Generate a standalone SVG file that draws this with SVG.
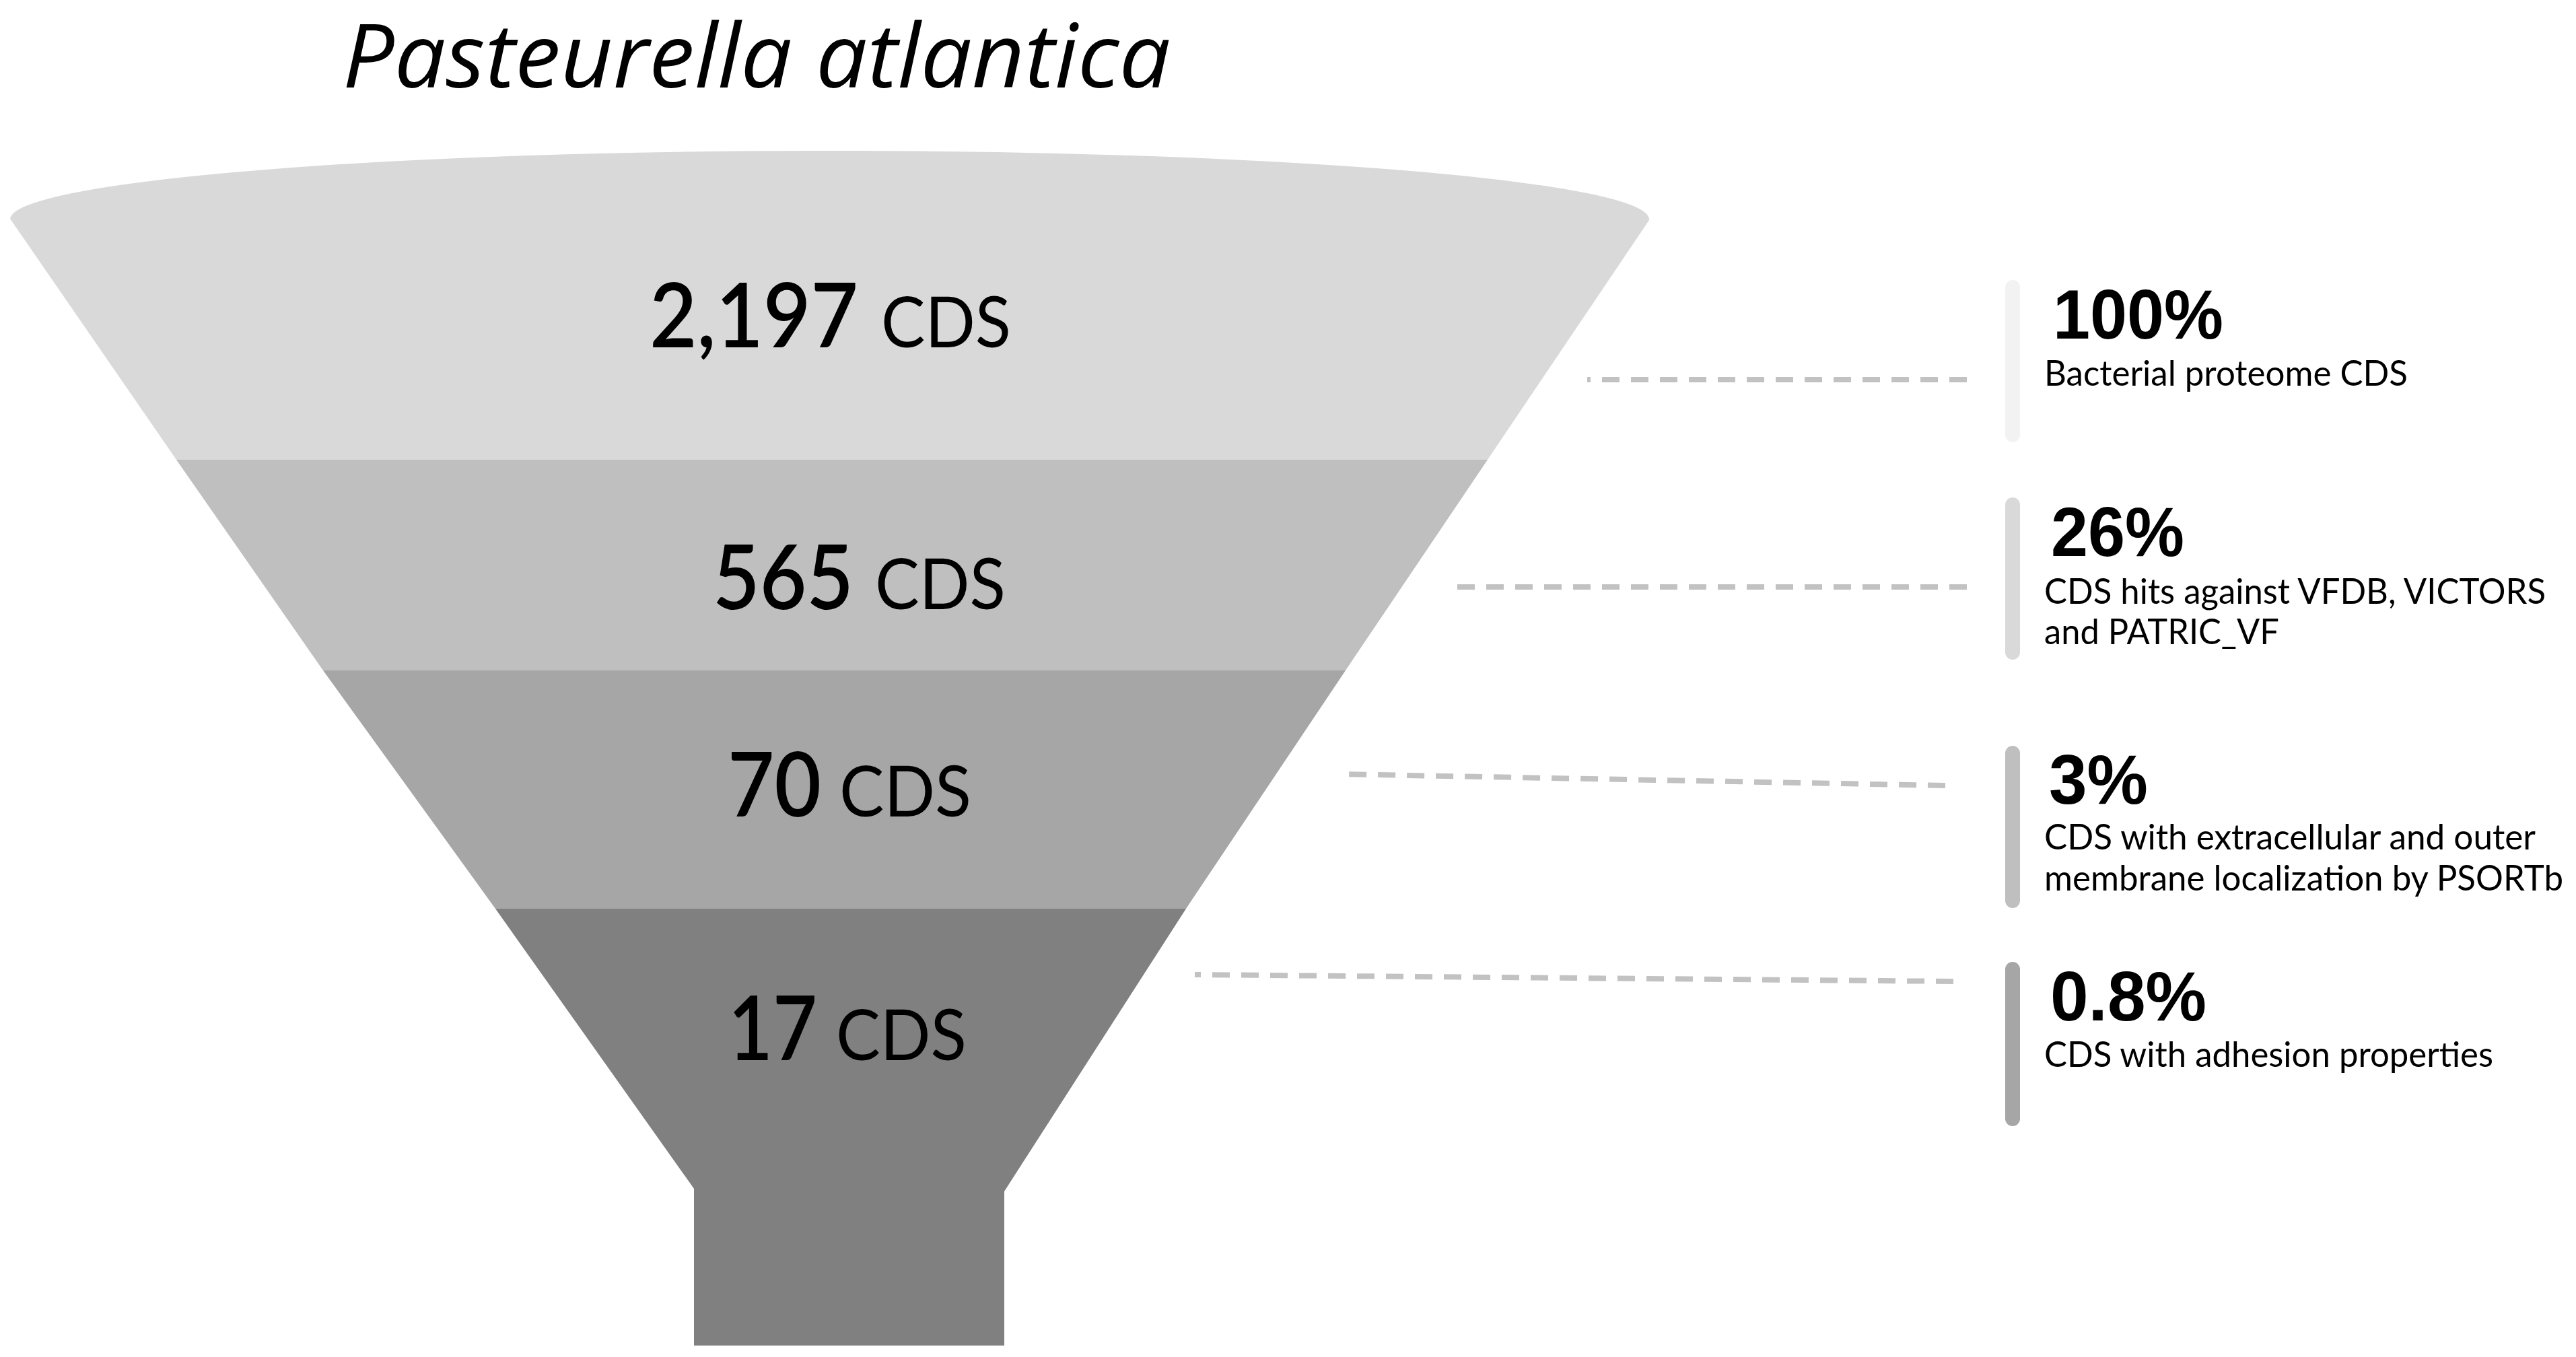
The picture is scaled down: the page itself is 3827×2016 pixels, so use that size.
<svg xmlns="http://www.w3.org/2000/svg" width="3827" height="2016" viewBox="0 0 3827 2016">
<style>
.num{font-family:Lato,"Noto Sans",sans-serif;font-weight:600;font-size:133px;fill:#000}
.cds{font-family:Lato,"Noto Sans",sans-serif;font-weight:400;font-size:105px;fill:#000}
.pct{font-family:"Liberation Sans",Arial,sans-serif;font-weight:700;font-size:104px;fill:#000}
.desc{font-family:Lato,"Noto Sans",sans-serif;font-weight:400;font-size:52px;fill:#000}
.title{font-family:"Open Sans","Noto Sans",sans-serif;font-style:italic;font-size:132px;fill:#000}
.dash{stroke:#c2c2c2;stroke-width:8;stroke-dasharray:26 17;fill:none}
.bar{stroke:none}
</style>
<rect width="3827" height="2016" fill="#ffffff"/>
<text class="title" x="509" y="130" textLength="1230" lengthAdjust="spacingAndGlyphs">Pasteurella atlantica</text>
<g id="band1">
<path d="M15,325 A1217,102 0 0 1 2450,327 L2210,683 L262,683 Z" fill="#d9d9d9"/>
<text class="num" x="965" y="516" textLength="310" lengthAdjust="spacingAndGlyphs">2,197</text>
<text class="cds" x="1309" y="516" textLength="193" lengthAdjust="spacingAndGlyphs">CDS</text>
</g>
<g id="band2">
<path d="M262,683 L2210,683 L1999,996 L480,996 Z" fill="#bfbfbf"/>
<text class="num" x="1059" y="905" textLength="209" lengthAdjust="spacingAndGlyphs">565</text>
<text class="cds" x="1300" y="905" textLength="194" lengthAdjust="spacingAndGlyphs">CDS</text>
</g>
<g id="band3">
<path d="M480,996 L1999,996 L1762,1350 L736,1350 Z" fill="#a6a6a6"/>
<text class="num" x="1081" y="1213" textLength="139" lengthAdjust="spacingAndGlyphs">70</text>
<text class="cds" x="1247" y="1213" textLength="196" lengthAdjust="spacingAndGlyphs">CDS</text>
</g>
<g id="band4">
<path d="M736,1350 L1762,1350 L1492,1770 L1492,1999 L1031,1999 L1031,1766 Z" fill="#808080"/>
<text class="num" x="1082" y="1575" textLength="132" lengthAdjust="spacingAndGlyphs">17</text>
<text class="cds" x="1242" y="1575" textLength="194" lengthAdjust="spacingAndGlyphs">CDS</text>
</g>
<g id="connectors">
<path class="dash" d="M2922,564 L2358,564"/>
<path class="dash" d="M2922,872 L2160,872"/>
<path class="dash" d="M2890,1167 L1990,1150"/>
<path class="dash" d="M2902,1458 L1775,1448"/>
</g>
<g id="label1">
<rect class="bar" x="2979" y="416" width="22" height="241" rx="11" fill="#f2f2f2"/>
<text class="pct" x="3050" y="503" textLength="253" lengthAdjust="spacingAndGlyphs">100%</text>
<text class="desc" x="3037" y="573" textLength="540" lengthAdjust="spacingAndGlyphs">Bacterial proteome CDS</text>
</g>
<g id="label2">
<rect class="bar" x="2979" y="739" width="22" height="241" rx="11" fill="#d9d9d9"/>
<text class="pct" x="3047" y="826" textLength="198" lengthAdjust="spacingAndGlyphs">26%</text>
<text class="desc" x="3037" y="897" textLength="745" lengthAdjust="spacingAndGlyphs">CDS hits against VFDB, VICTORS</text>
<text class="desc" x="3037" y="957" textLength="349" lengthAdjust="spacingAndGlyphs">and PATRIC_VF</text>
</g>
<g id="label3">
<rect class="bar" x="2979" y="1108" width="22" height="241" rx="11" fill="#bfbfbf"/>
<text class="pct" x="3044" y="1194" textLength="147" lengthAdjust="spacingAndGlyphs">3%</text>
<text class="desc" x="3037" y="1262" textLength="730" lengthAdjust="spacingAndGlyphs">CDS with extracellular and outer</text>
<text class="desc" x="3037" y="1323" textLength="771" lengthAdjust="spacingAndGlyphs">membrane localization by PSORTb</text>
</g>
<g id="label4">
<rect class="bar" x="2979" y="1429" width="22" height="244" rx="11" fill="#a6a6a6"/>
<text class="pct" x="3046" y="1516" textLength="232" lengthAdjust="spacingAndGlyphs">0.8%</text>
<text class="desc" x="3037" y="1585" textLength="667" lengthAdjust="spacingAndGlyphs">CDS with adhesion properties</text>
</g>
</svg>
